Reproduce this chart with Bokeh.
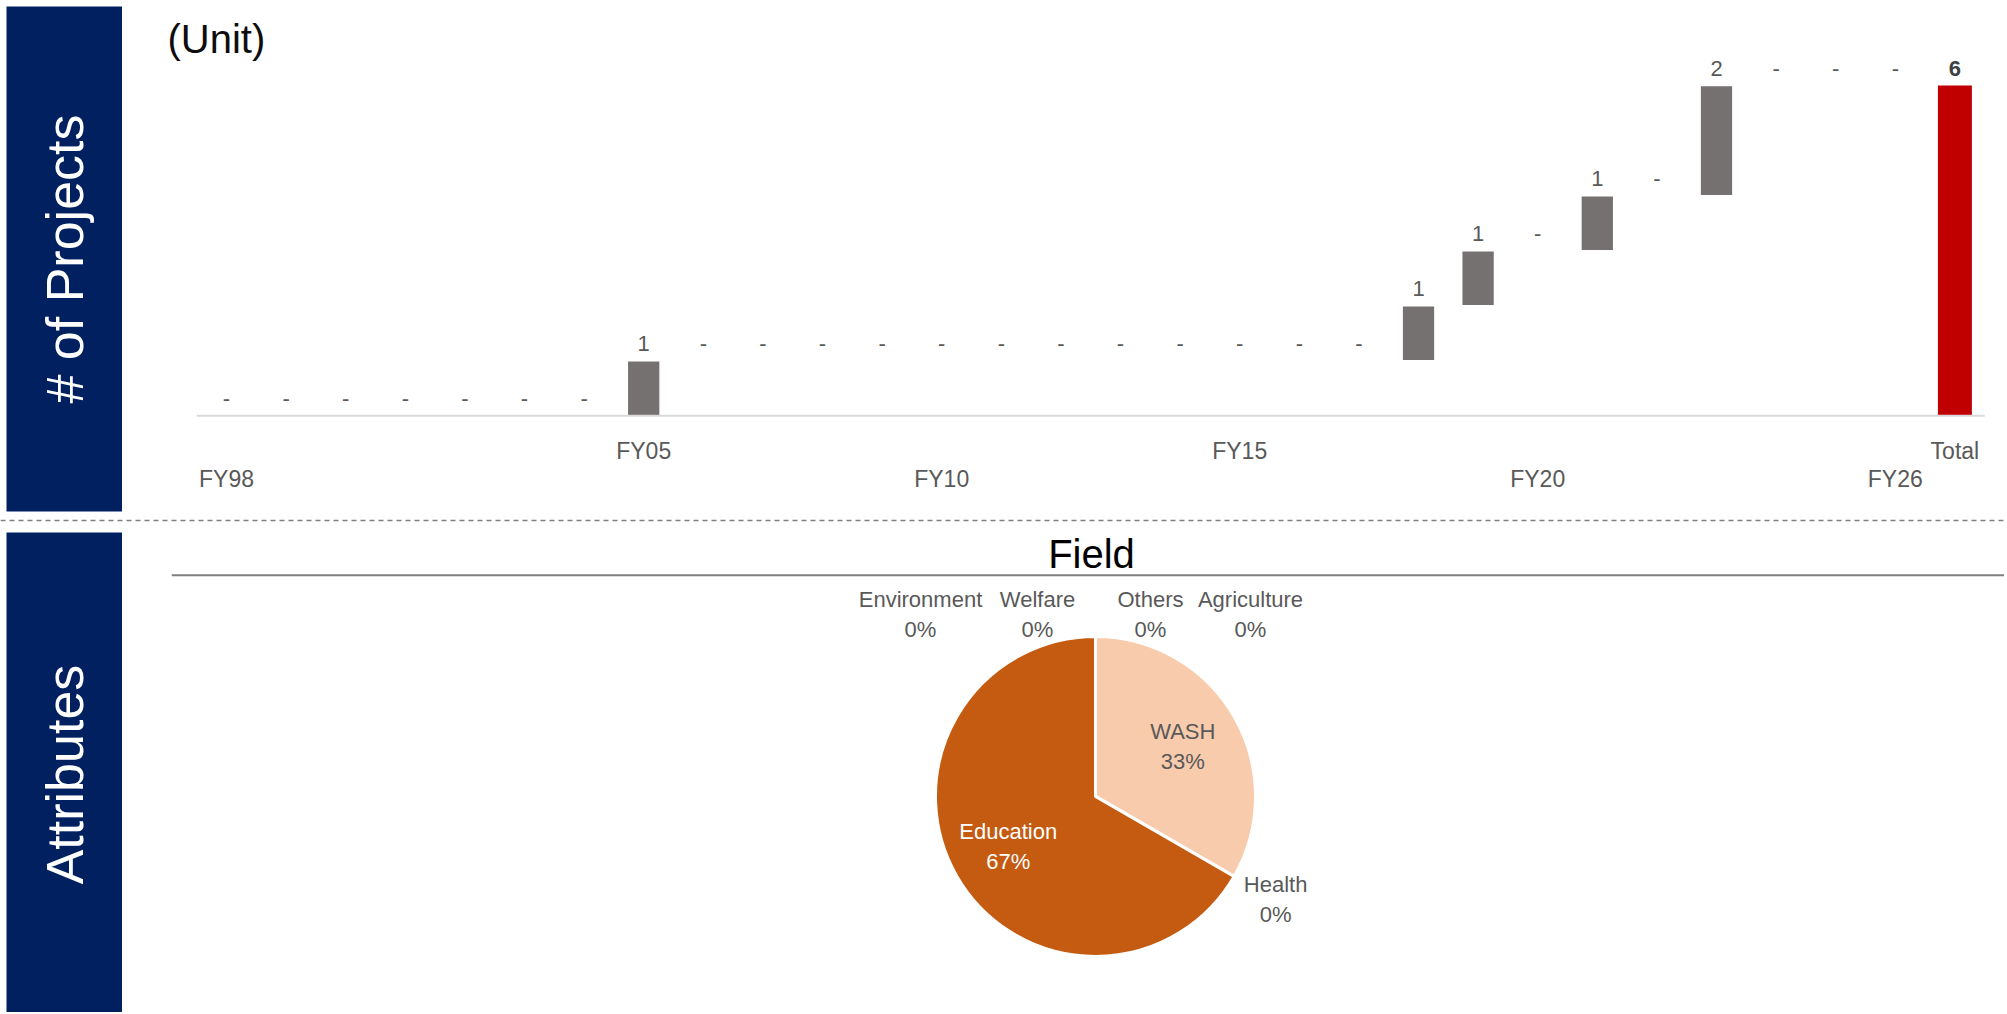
import math
from bokeh.plotting import figure
from bokeh.layouts import row, column
from bokeh.models import ColumnDataSource, Range1d, Span
from bokeh.core.properties import value
from bokeh.embed import file_html
from bokeh.resources import INLINE

# ---------------- data ----------------
years = ["FY98", "FY99", "FY00", "FY01", "FY02", "FY03", "FY04", "FY05", "FY06",
         "FY07", "FY08", "FY09", "FY10", "FY11", "FY12", "FY13", "FY14", "FY15",
         "FY16", "FY17", "FY18", "FY19", "FY20", "FY21", "FY22", "FY23", "FY24",
         "FY25", "FY26"]
projects = [0, 0, 0, 0, 0, 0, 0, 1, 0,
            0, 0, 0, 0, 0, 0, 0, 0, 0,
            0, 0, 1, 1, 0, 1, 0, 2, 0,
            0, 0]
total_name = "Total"
upper_tick_labels = ["FY05", "FY15", "Total"]
lower_tick_labels = ["FY98", "FY10", "FY20", "FY26"]

fields = ["Others", "Agriculture", "WASH", "Health", "Education", "Environment", "Welfare"]
field_counts = [0, 0, 2, 0, 4, 0, 0]
field_colors = ["#A5A5A5", "#FFC000", "#F8CBAD", "#F4B183", "#C55A11", "#843C0C", "#ED7D31"]

# ---------------- styles ----------------
FONT = value("Liberation Sans")
NAVY = "#002060"
BAR_GRAY = "#767171"
TOTAL_RED = "#C00000"
LABEL_GRAY = "#595959"

TOTAL_W = 2004
NAV_W = 122
NAV_PAD = 6
CHART_W = TOTAL_W - NAV_W
TOP_H = 512
SEP_H = 18
BOT_H = 482


def bare(p):
    p.grid.visible = False
    p.outline_line_color = None
    p.min_border = 0
    p.background_fill_color = "white"
    p.border_fill_color = "white"
    return p


def navy_box(label, h, pad_top, pad_bottom, dy):
    p = figure(width=NAV_W, height=h, x_range=(0, 1), y_range=(0, 1),
               toolbar_location=None, output_backend="svg",
               x_axis_location=None, y_axis_location=None)
    bare(p)
    p.min_border_left = NAV_PAD
    p.min_border_top = pad_top
    p.min_border_bottom = pad_bottom
    p.background_fill_color = NAVY
    p.text(x=[0.5], y=[0.5], text=[label], angle=math.pi / 2, y_offset=dy,
           text_color="white", text_font=FONT, text_font_size="52px",
           text_align="center", text_baseline="middle")
    return p


# ---------------- top: waterfall ----------------
cats = years + [total_name]
n = len(cats)
STEP = 59.6      # px per category
UNIT = 55.8      # px per project
LEFT_PAD = 104   # px from figure left to first category centre
BASE_FROM_TOP = 415

x0 = -LEFT_PAD / STEP
top = figure(width=CHART_W, height=TOP_H,
             x_range=Range1d(x0, x0 + CHART_W / STEP),
             y_range=Range1d(-(TOP_H - BASE_FROM_TOP) / UNIT, BASE_FROM_TOP / UNIT),
             toolbar_location=None, output_backend="svg",
             x_axis_location=None, y_axis_location=None)
bare(top)

cum = []
c = 0
for v in projects:
    c += v
    cum.append(c)
total = cum[-1]
prev = [cv - v for cv, v in zip(cum, projects)]

idx = list(range(len(years)))
bars = ColumnDataSource(dict(
    x=[i for i, v in zip(idx, projects) if v > 0],
    bottom=[b for b, v in zip(prev, projects) if v > 0],
    top=[t for t, v in zip(cum, projects) if v > 0],
))
top.vbar(x="x", bottom="bottom", top="top", width=0.55, source=bars,
         fill_color=BAR_GRAY, line_color="white", line_width=1.5)
top.vbar(x=[n - 1], bottom=[0], top=[total], width=0.57,
         fill_color=TOTAL_RED, line_color=None)

# baseline
top.segment(x0=[-0.5], y0=[0], x1=[n - 0.5], y1=[0], line_color="#D9D9D9", line_width=2)

# value labels
vl = ColumnDataSource(dict(
    x=idx, y=cum, t=[str(v) if v > 0 else "-" for v in projects]))
top.text(x="x", y="y", text="t", source=vl, y_offset=-17,
         text_align="center", text_baseline="alphabetic",
         text_font=FONT, text_font_size="22px", text_color=LABEL_GRAY)
top.text(x=[n - 1], y=[total], text=[str(total)], y_offset=-17,
         text_align="center", text_baseline="alphabetic",
         text_font=FONT, text_font_size="22px", text_font_style="bold",
         text_color="#404040")

# category labels (staggered)
top.text(x=[cats.index(s) for s in upper_tick_labels], y=[0] * len(upper_tick_labels),
         text=upper_tick_labels, y_offset=35, text_align="center", text_baseline="middle",
         text_font=FONT, text_font_size="23px", text_color=LABEL_GRAY)
top.text(x=[cats.index(s) for s in lower_tick_labels], y=[0] * len(lower_tick_labels),
         text=lower_tick_labels, y_offset=63, text_align="center", text_baseline="middle",
         text_font=FONT, text_font_size="23px", text_color=LABEL_GRAY)

# unit caption
top.text(x=[top.x_range.start], y=[top.y_range.end], text=["(Unit)"],
         x_offset=45, y_offset=32, text_align="left", text_baseline="alphabetic",
         text_font=FONT, text_font_size="40px", text_color="#0D0D0D")

# ---------------- separator ----------------
sep = figure(width=TOTAL_W, height=SEP_H, x_range=(0, 1), y_range=(0, SEP_H),
             toolbar_location=None, output_backend="svg",
             x_axis_location=None, y_axis_location=None)
bare(sep)
sep.add_layout(Span(location=SEP_H - 8, dimension="width", line_color="#7F7F7F",
                    line_width=1.5, line_dash="5 4"))

# ---------------- bottom: pie ----------------
BOT_LEFT = 49
R = 160
CX_FROM_FRAME_LEFT = 924
CY_FROM_TOP = 265
frame_w = CHART_W - BOT_LEFT
bot = figure(width=CHART_W, height=BOT_H,
             x_range=Range1d(-CX_FROM_FRAME_LEFT, frame_w - CX_FROM_FRAME_LEFT),
             y_range=Range1d(-(BOT_H - CY_FROM_TOP), CY_FROM_TOP),
             toolbar_location=None, output_backend="svg",
             x_axis_location=None, y_axis_location=None)
bare(bot)
bot.min_border_left = BOT_LEFT

bot.text(x=[0], y=[bot.y_range.end], text=["Field"], x_offset=-4, y_offset=21,
         text_align="center", text_baseline="middle", text_font=FONT,
         text_font_size="40px", text_color="black")
bot.add_layout(Span(location=CY_FROM_TOP - 43, dimension="width",
                    line_color="#7F7F7F", line_width=2))

ftotal = sum(field_counts)
starts, ends, cols = [], [], []
lab_x, lab_y, lab_t, lab_c = [], [], [], []
outside_dx = {"Environment": -175, "Welfare": -58, "Others": 55, "Agriculture": 155}
run = 0
for name, cnt, col in zip(fields, field_counts, field_colors):
    a0 = math.pi / 2 - 2 * math.pi * run / ftotal
    a1 = math.pi / 2 - 2 * math.pi * (run + cnt) / ftotal
    run += cnt
    mid = (a0 + a1) / 2
    txt = f"{name}\n{round(100 * cnt / ftotal)}%"
    if cnt > 0:
        starts.append(a0)
        ends.append(a1)
        cols.append(col)
        lab_x.append(0.63 * R * math.cos(mid))
        lab_y.append(0.63 * R * math.sin(mid))
        lab_c.append("white" if name == "Education" else LABEL_GRAY)
    elif name in outside_dx:
        lab_x.append(1.14 * R * math.cos(mid) + outside_dx[name])
        lab_y.append(1.14 * R * math.sin(mid))
        lab_c.append(LABEL_GRAY)
    else:
        lab_x.append(1.3 * R * math.cos(mid))
        lab_y.append(1.3 * R * math.sin(mid))
        lab_c.append(LABEL_GRAY)
    lab_t.append(txt)

wedges = ColumnDataSource(dict(start=starts, end=ends, color=cols))
bot.wedge(x=0, y=0, radius=R, start_angle="start", end_angle="end",
          direction="clock", fill_color="color", line_color="white",
          line_width=3, source=wedges)
labels = ColumnDataSource(dict(x=lab_x, y=lab_y, t=lab_t, c=lab_c))
bot.text(x="x", y="y", text="t", text_color="c", source=labels,
         text_align="center", text_baseline="middle", text_font=FONT,
         text_font_size="22px", text_line_height=1.2)

# ---------------- layout ----------------
layout = column(
    row(navy_box("# of Projects", TOP_H, NAV_PAD, 1, 0), top),
    sep,
    row(navy_box("Attributes", BOT_H, 2, 0, 2), bot),
)

open("out.html", "w").write(file_html(layout, INLINE))
